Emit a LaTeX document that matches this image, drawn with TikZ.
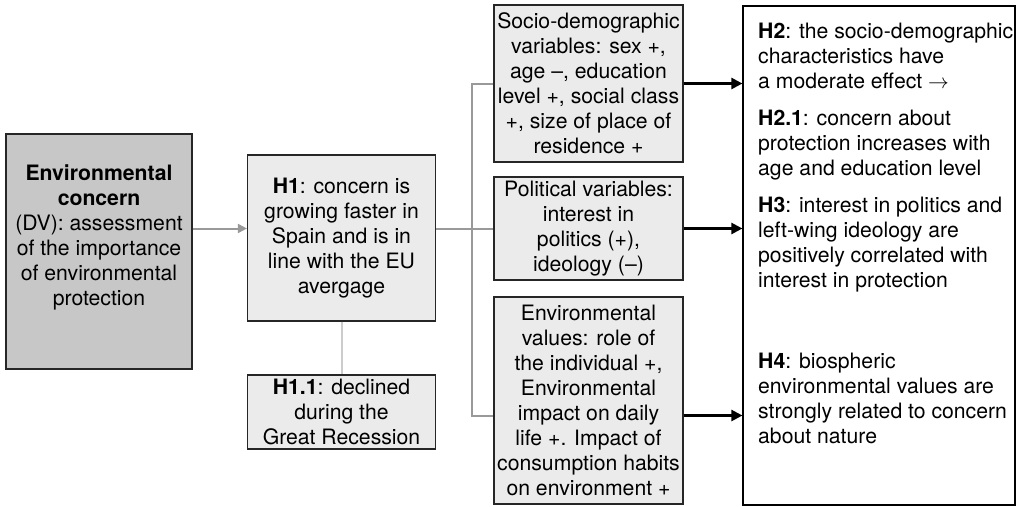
\documentclass[tikz,border=0pt]{standalone}
\usepackage{fontspec}
\setmainfont{TeX Gyre Heros}
\usetikzlibrary{arrows.meta}
\begin{document}
\begin{tikzpicture}[x=1pt,y=-1pt,
  font=\fontsize{21.2}{25}\selectfont,
  box/.style={draw=black!85,line width=1.2pt,fill=black!8,inner sep=0pt,align=center,minimum width=188pt},
  link/.style={draw=black!40,line width=2pt},
  effect/.style={line width=2.4pt,-{Triangle[length=11pt,width=11pt]}}]
  \useasboundingbox (0,0) rectangle (1022,506);
  \node[box,fill=black!22,minimum width=186pt,minimum height=235pt] (dv) at (99,251.5) {};
  \node[anchor=north,align=center,inner sep=0pt] (dvtext) at (99,165) {\textbf{Environmental}\\\textbf{concern}\\(DV): assessment\\of the importance\\of environmental\\protection};
  \node[box,minimum height=166pt] (h1) at (341.5,238) {\textbf{H1}: concern is\\growing faster in\\Spain and is in\\line with the EU\\avergage};
  \node[box,minimum height=74pt] (h11) at (341.5,412) {\textbf{H1.1}: declined\\during the\\Great Recession};
  \node[box,minimum width=189pt,minimum height=157pt] (socio) at (588.5,83.5) {Socio-demographic\\variables: sex +,\\age --, education\\level +, social class\\+, size of place of\\residence +};
  \node[box,minimum width=189pt,minimum height=103pt] (pol) at (588.5,228.5) {Political variables:\\interest in\\politics (+),\\ideology (--)};
  \node[box,minimum width=189pt,minimum height=207pt] (env) at (588.5,400.5) {Environmental\\values: role of\\the individual +,\\Environmental\\impact on daily\\life +. Impact of\\consumption habits\\on environment +};
  \node[draw=black,line width=1.2pt,fill=white,inner sep=0pt,minimum width=272pt,minimum height=499pt] (hyp) at (879,255.5) {};
  \node[anchor=north west,align=left,inner sep=0pt] (hyptext) at (758,23) {\textbf{H2}: the socio-demographic\\characteristics have\\a moderate effect $\rightarrow$\\[12pt]\textbf{H2.1}: concern about\\protection increases with\\age and education level\\[12pt]\textbf{H3}: interest in politics and\\left-wing ideology are\\positively correlated with\\interest in protection\\[56pt]\textbf{H4}: biospheric\\environmental values are\\strongly related to concern\\about nature};
  \draw[link,-{Triangle[length=9pt,width=9pt]}] (dv.east |- pol.west) -- (h1.west |- pol.west);
  \draw[link] (h1.east |- pol.west) -- (pol.west);
  \draw[link] (socio.west) -- ++(-21,0) |- ([yshift=-15pt]env.west);
  \draw[link,draw=black!20] (h1.south) -- (h11.north);
  \draw[effect] (socio.east) -- (socio.east -| hyp.west);
  \draw[effect] (pol.east) -- (pol.east -| hyp.west);
  \draw[effect] ([yshift=-15pt]env.east) -- ([yshift=-15pt]env.east -| hyp.west);
\end{tikzpicture}
\end{document}
